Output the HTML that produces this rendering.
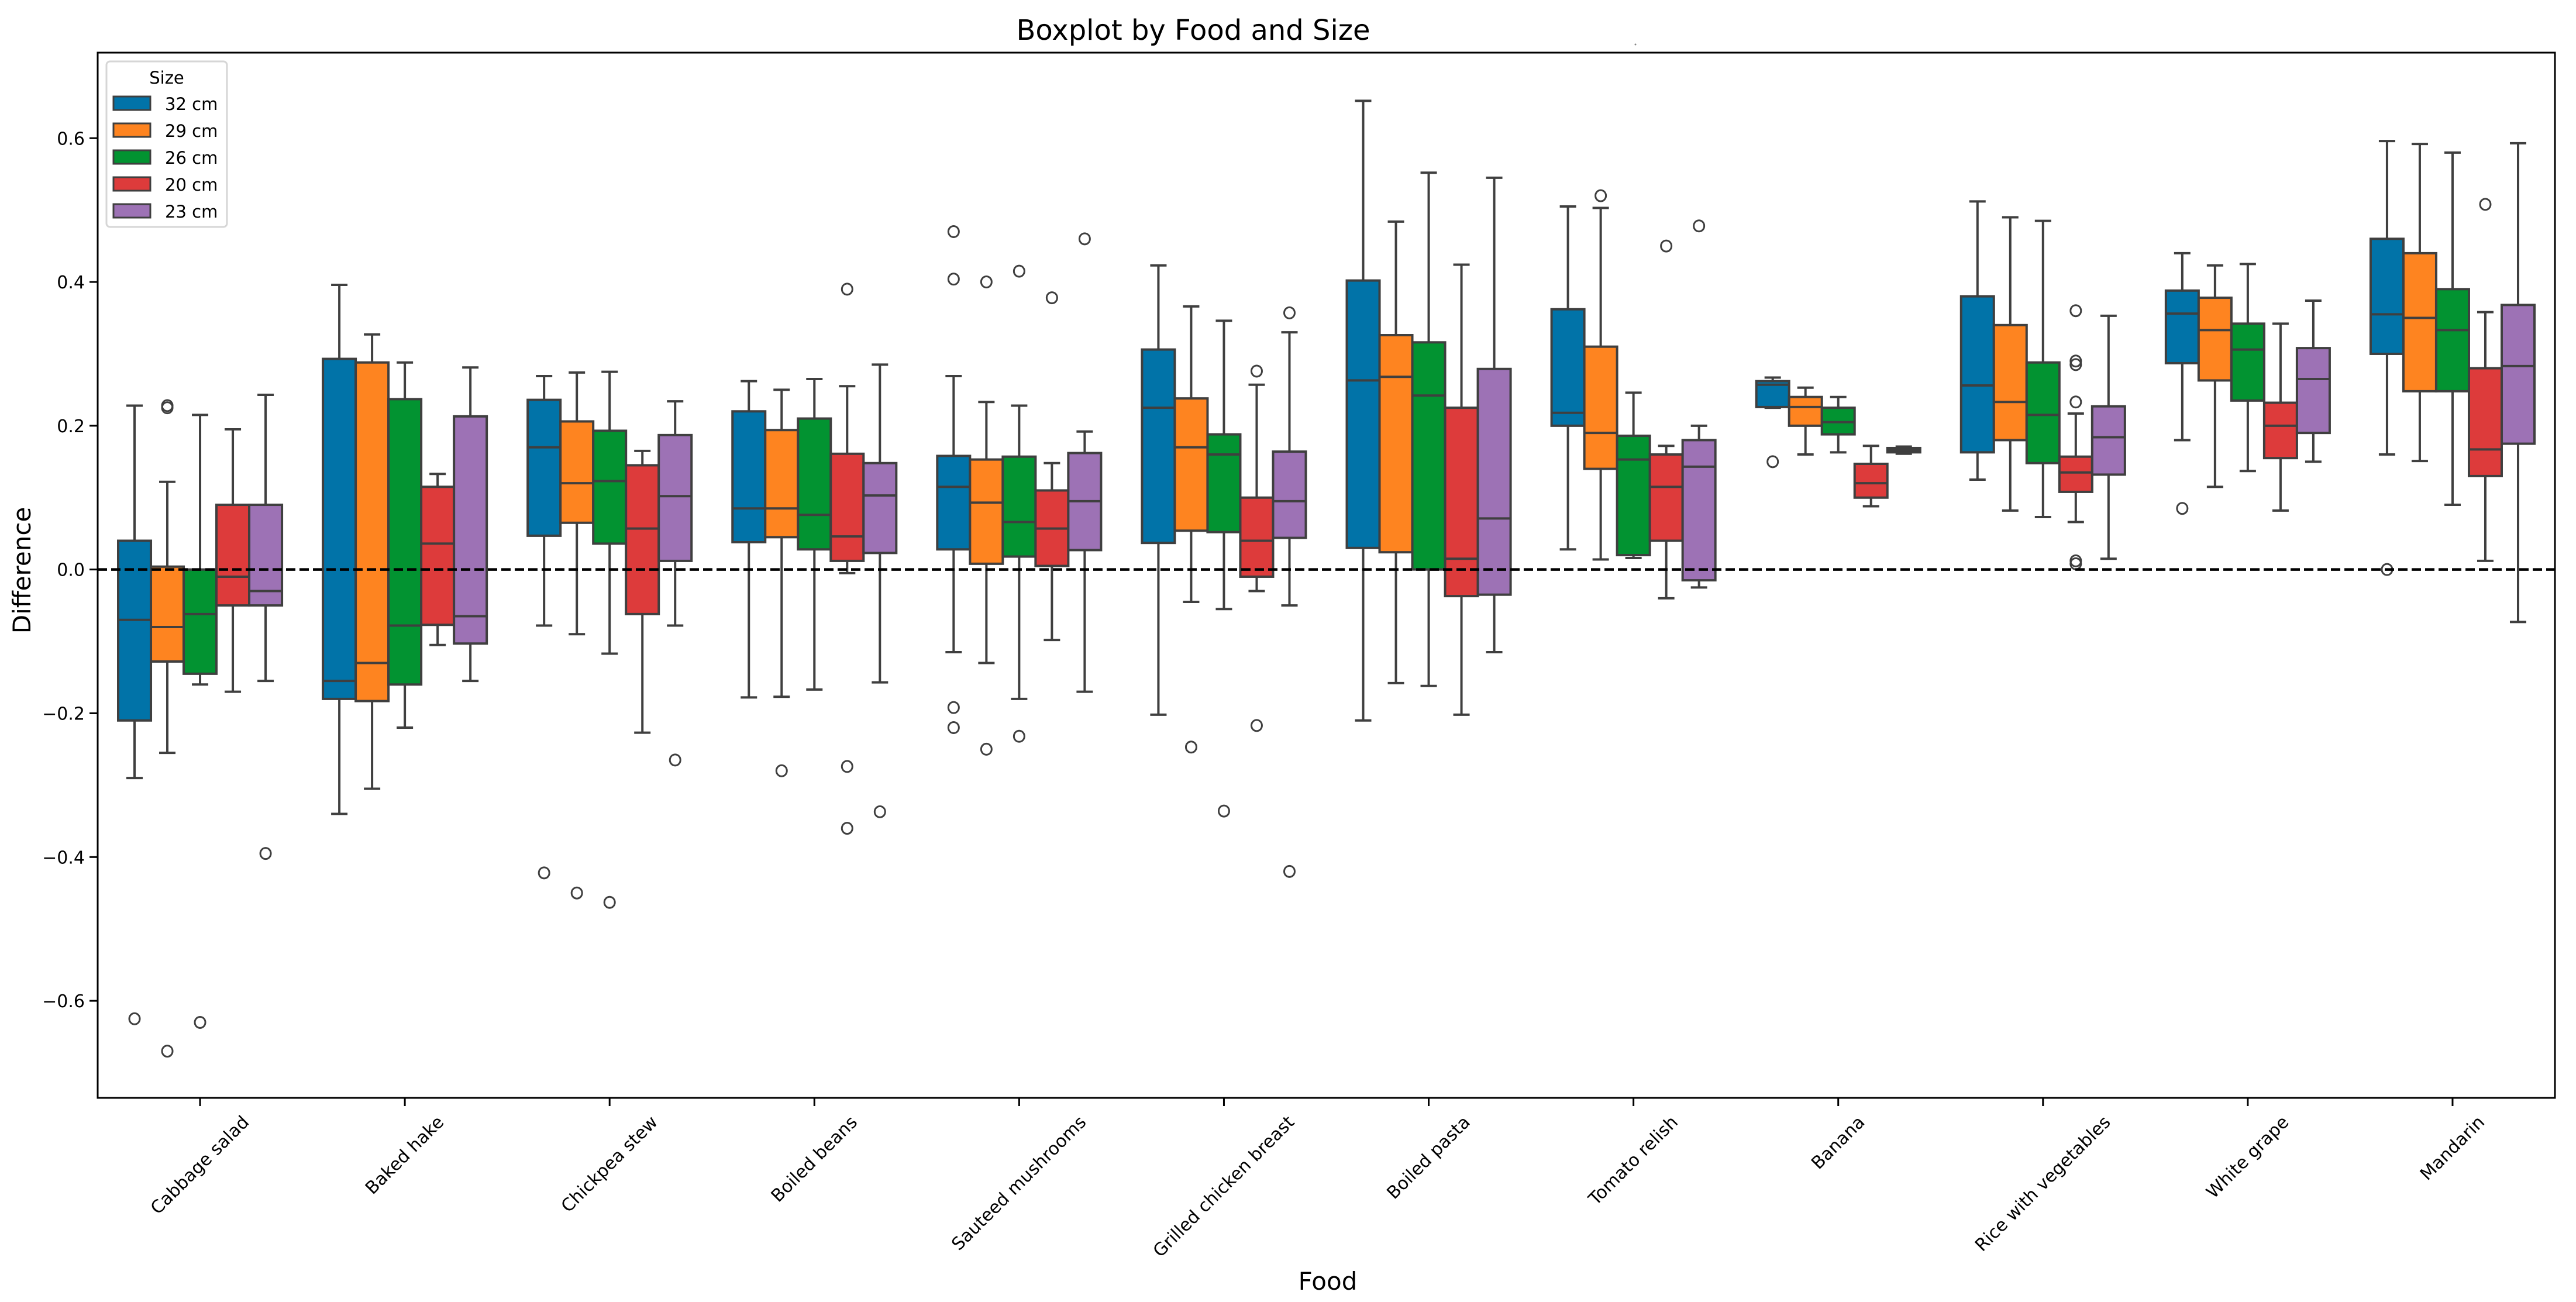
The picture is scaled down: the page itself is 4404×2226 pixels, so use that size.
<!DOCTYPE html>
<html><head><meta charset="utf-8"><style>
html,body{margin:0;padding:0;background:#fff;}
svg{display:block;font-family:"DejaVu Sans","Liberation Sans",sans-serif;}
</style></head><body>
<svg id="chart" width="4404" height="2226" viewBox="0 0 4404 2226" xmlns="http://www.w3.org/2000/svg">
<rect x="0" y="0" width="4404" height="2226" fill="#fff"/>
<text x="2040" y="68" font-size="48" text-anchor="middle">Boxplot by Food and Size</text>
<circle cx="2796" cy="76" r="1.5" fill="#888"/>
<g id="plot"></g>
<text x="2270" y="2205" font-size="42" text-anchor="middle">Food</text>
<text x="52" y="975" font-size="42" text-anchor="middle" transform="rotate(-90 52 975)">Difference</text>
</svg>
<script>
const categories = ["Cabbage salad","Baked hake","Chickpea stew","Boiled beans","Sauteed mushrooms","Grilled chicken breast","Boiled pasta","Tomato relish","Banana","Rice with vegetables","White grape","Mandarin"];
const sizes = ["32 cm","29 cm","26 cm","20 cm","23 cm"];
const colors = ["#0173a8","#fe8420","#029331","#dd3b3b","#9d72b5"];
const yTicks = [-0.6,-0.4,-0.2,0.0,0.2,0.4,0.6];
const yTickLabels = ["\u22120.6","\u22120.4","\u22120.2","0.0","0.2","0.4","0.6"];
// [whiskerLow, q1, median, q3, whiskerHigh] per category, per size
const stats32 = [[-0.29,-0.21,-0.07,0.04,0.228],[-0.34,-0.18,-0.155,0.293,0.396],[-0.078,0.047,0.17,0.236,0.269],[-0.178,0.038,0.085,0.22,0.262],[-0.115,0.028,0.115,0.158,0.269],[-0.202,0.037,0.225,0.306,0.423],[-0.21,0.03,0.263,0.402,0.652],[0.028,0.2,0.218,0.362,0.505],[0.225,0.226,0.257,0.262,0.267],[0.125,0.163,0.256,0.38,0.512],[0.18,0.287,0.356,0.388,0.44],[0.16,0.30,0.355,0.46,0.596]];
const stats29 = [[-0.255,-0.128,-0.08,0.004,0.122],[-0.305,-0.183,-0.13,0.288,0.327],[-0.09,0.065,0.12,0.206,0.274],[-0.177,0.045,0.085,0.194,0.25],[-0.13,0.008,0.093,0.153,0.233],[-0.045,0.054,0.17,0.238,0.366],[-0.158,0.024,0.268,0.326,0.484],[0.014,0.14,0.19,0.31,0.503],[0.16,0.2,0.226,0.24,0.253],[0.082,0.18,0.233,0.34,0.49],[0.115,0.263,0.333,0.378,0.423],[0.151,0.248,0.35,0.44,0.592]];
const stats26 = [[-0.16,-0.145,-0.062,0.0,0.215],[-0.22,-0.16,-0.078,0.237,0.288],[-0.117,0.036,0.123,0.193,0.275],[-0.167,0.028,0.076,0.21,0.265],[-0.18,0.018,0.066,0.157,0.228],[-0.055,0.052,0.16,0.188,0.346],[-0.162,0.0,0.242,0.316,0.552],[0.016,0.02,0.153,0.186,0.246],[0.163,0.188,0.205,0.225,0.24],[0.073,0.148,0.215,0.288,0.485],[0.137,0.235,0.306,0.342,0.425],[0.09,0.248,0.333,0.39,0.58]];
const stats20 = [[-0.17,-0.05,-0.01,0.09,0.195],[-0.105,-0.077,0.036,0.115,0.133],[-0.227,-0.062,0.057,0.145,0.165],[-0.005,0.012,0.046,0.161,0.255],[-0.098,0.005,0.057,0.11,0.148],[-0.03,-0.01,0.04,0.1,0.257],[-0.202,-0.037,0.015,0.225,0.424],[-0.04,0.04,0.115,0.16,0.172],[0.088,0.1,0.12,0.147,0.172],[0.066,0.108,0.135,0.157,0.217],[0.082,0.155,0.2,0.232,0.342],[0.012,0.13,0.167,0.28,0.358]];
const stats23 = [[-0.155,-0.05,-0.03,0.09,0.243],[-0.155,-0.103,-0.065,0.213,0.281],[-0.078,0.012,0.102,0.187,0.234],[-0.157,0.023,0.103,0.148,0.285],[-0.17,0.027,0.095,0.162,0.192],[-0.05,0.044,0.095,0.164,0.33],[-0.115,-0.035,0.071,0.279,0.545],[-0.025,-0.015,0.143,0.18,0.2],[0.161,0.163,0.166,0.169,0.171],[0.015,0.132,0.184,0.227,0.353],[0.15,0.19,0.265,0.308,0.374],[-0.073,0.175,0.283,0.368,0.593]];
const outliers32 = [[-0.625],[],[-0.422],[],[0.47,0.404,-0.192,-0.22],[],[],[],[0.15],[],[0.085],[0.0]];
const outliers29 = [[0.225,0.228,-0.67],[],[-0.45],[-0.28],[0.40,-0.25],[-0.247],[],[0.52],[],[],[],[]];
const outliers26 = [[-0.63],[],[-0.463],[],[0.415,-0.232],[-0.336],[],[],[],[],[],[]];
const outliers20 = [[],[],[],[0.39,-0.274,-0.36],[0.378],[0.276,-0.217],[],[0.45],[],[0.36,0.29,0.285,0.233,0.012,0.008],[],[0.508]];
const outliers23 = [[-0.395],[],[-0.265],[-0.337],[0.46],[0.357,-0.42],[],[0.478],[],[],[],[]];

const allStats=[stats32,stats29,stats26,stats20,stats23];
const allOut=[outliers32,outliers29,outliers26,outliers20,outliers23];
const NS="http://www.w3.org/2000/svg";
const L=167,R=4368,T=90,B=1877;
const yMin=-0.735,yMax=0.719;
function yS(v){return B-(v-yMin)/(yMax-yMin)*(B-T);}
const gw=(R-L)/categories.length;
function xC(i){return L+(i+0.5)*gw;}
const bw=gw*0.8/5;
const plot=document.getElementById('plot');
function mk(tag,attrs,parent){const e=document.createElementNS(NS,tag);for(const k in attrs)e.setAttribute(k,attrs[k]);(parent||plot).appendChild(e);return e;}
yTicks.forEach((v,k)=>{
  const g=mk('g',{});
  
  
  mk('line',{x1:L-14,x2:L,y1:yS(v),y2:yS(v),stroke:'#000','stroke-width':3},g);
  const t=mk('text',{x:L-22,y:yS(v)+11,'font-size':30,'text-anchor':'end'},g);
  t.textContent=yTickLabels[k];
});
for(let s=0;s<5;s++){
  for(let i=0;i<categories.length;i++){
    const st=allStats[s][i];
    const cx=xC(i)+(s-2)*bw;
    const g=mk('g',{});
    
    
    const lc='#3f3f3f',lw=4;
    mk('line',{x1:cx,x2:cx,y1:yS(st[0]),y2:yS(st[1]),stroke:lc,'stroke-width':lw},g);
    mk('line',{x1:cx,x2:cx,y1:yS(st[3]),y2:yS(st[4]),stroke:lc,'stroke-width':lw},g);
    mk('line',{x1:cx-bw/4,x2:cx+bw/4,y1:yS(st[0]),y2:yS(st[0]),stroke:lc,'stroke-width':lw},g);
    mk('line',{x1:cx-bw/4,x2:cx+bw/4,y1:yS(st[4]),y2:yS(st[4]),stroke:lc,'stroke-width':lw},g);
    const y1=yS(st[3]),y2=yS(st[1]);
    mk('rect',{x:cx-bw/2,y:y1,width:bw,height:Math.max(1,y2-y1),fill:colors[s],stroke:lc,'stroke-width':lw},g);
    mk('line',{x1:cx-bw/2,x2:cx+bw/2,y1:yS(st[2]),y2:yS(st[2]),stroke:lc,'stroke-width':lw},g);
    allOut[s][i].forEach(o=>{
      const c=mk('ellipse',{cx:cx,cy:yS(o),rx:9,ry:9.5,fill:'none',stroke:lc,'stroke-width':3},g);
      
      
    });
  }
}
const zl=mk('line',{x1:L,x2:R,y1:yS(0),y2:yS(0),stroke:'#000','stroke-width':4.5,'stroke-dasharray':'16 7'});


const fr=mk('rect',{x:L,y:T,width:R-L,height:B-T,fill:'none',stroke:'#000','stroke-width':3});


categories.forEach((c,i)=>{
  const g=mk('g',{});
  
  
  mk('line',{x1:xC(i),x2:xC(i),y1:B,y2:B+14,stroke:'#000','stroke-width':3},g);
  const t=mk('text',{x:0,y:0,'font-size':30,'text-anchor':'middle','dominant-baseline':'central'},g);
  t.textContent=c;
  const w=t.getComputedTextLength();
  const h=(w+30)*0.7071;
  const cy=B+26+h/2;
  t.setAttribute('x',xC(i));t.setAttribute('y',cy);
  t.setAttribute('transform','rotate(-45 '+xC(i)+' '+cy+')');
});
const lg=mk('g',{});


mk('rect',{x:182,y:105,width:206,height:283,rx:6,fill:'#fff','fill-opacity':0.85,stroke:'#d6d6d6','stroke-width':3},lg);
const lt=mk('text',{x:285,y:143,'font-size':29,'text-anchor':'middle'},lg);
lt.textContent='Size';
sizes.forEach((s,k)=>{
  const e=mk('g',{},lg);
  
  
  const yy=165+k*46;
  mk('rect',{x:194,y:yy,width:63,height:23,fill:colors[k],stroke:'#3f3f3f','stroke-width':3},e);
  const t=mk('text',{x:282,y:yy+23,'font-size':29},e);
  t.textContent=s;
});
</script>
</body></html>
